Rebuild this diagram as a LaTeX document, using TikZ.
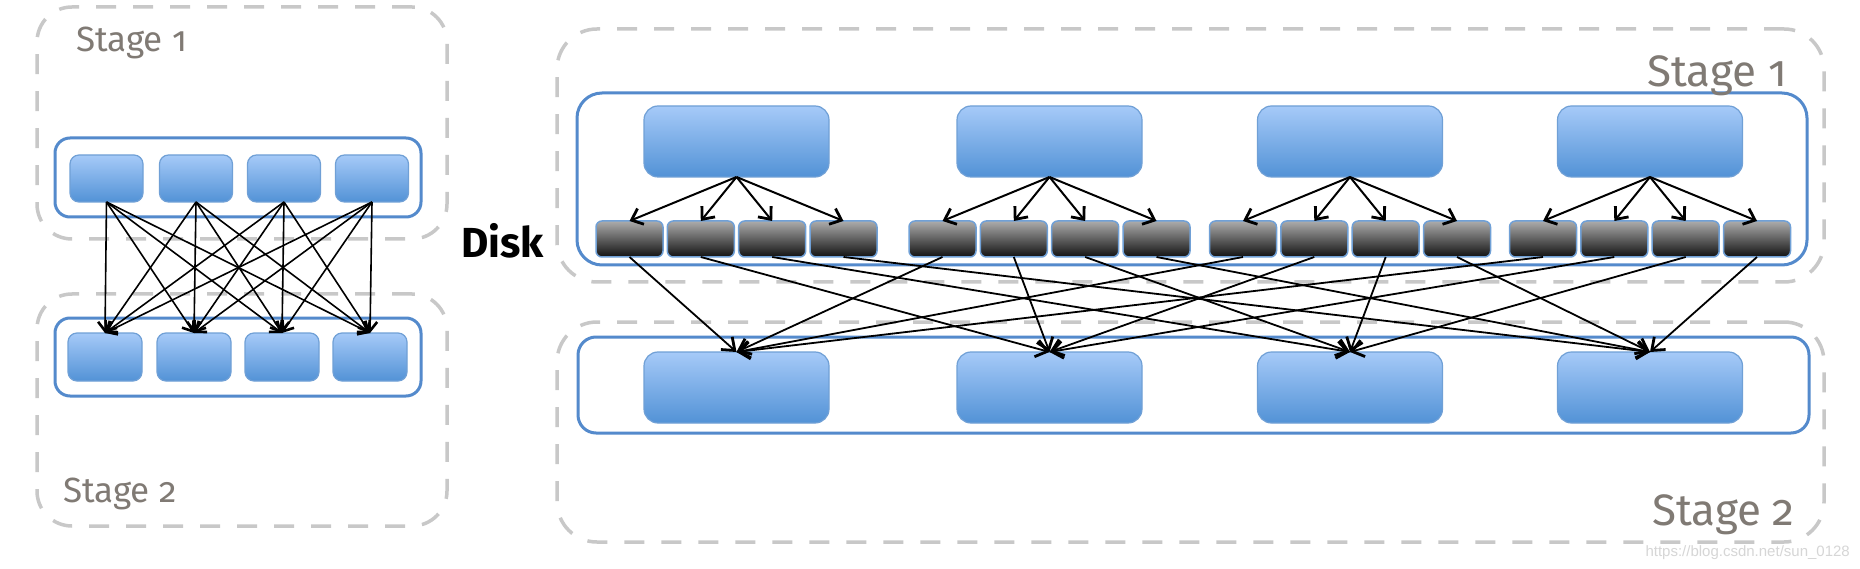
\documentclass[tikz,border=0pt]{standalone}
\usepackage{fontspec}
\setmainfont{Fira Sans}[Numbers=OldStyle]
\newfontfamily\wmfont{Liberation Sans}
\usetikzlibrary{arrows.meta}
\definecolor{dashgray}{RGB}{200,200,200}
\definecolor{contblue}{RGB}{84,138,204}
\definecolor{boxtop}{RGB}{166,202,248}
\definecolor{boxbot}{RGB}{82,146,214}
\definecolor{boxedge}{RGB}{112,160,214}
\definecolor{disktop}{RGB}{172,172,172}
\definecolor{diskbot}{RGB}{18,18,18}
\definecolor{stagegray}{RGB}{128,122,116}
\definecolor{wmgray}{RGB}{214,214,214}
\tikzset{
  stagebox/.style={draw=dashgray, line width=3.5pt, dash pattern=on 20pt off 17pt, inner sep=0pt, outer sep=0pt},
  contbox/.style={draw=contblue, line width=3pt, fill=white, inner sep=0pt, outer sep=0pt},
  bluebox/.style={draw=boxedge, line width=1.2pt, top color=boxtop, bottom color=boxbot, inner sep=0pt, outer sep=0pt},
  diskbox/.style={draw=boxedge, line width=1.5pt, top color=disktop, bottom color=diskbot, rounded corners=6pt, minimum width=67pt, minimum height=36pt, inner sep=0pt, outer sep=0pt},
  stagetext/.style={text=stagegray, inner sep=0pt},
  leftarrow/.style={line width=1.6pt, -{Straight Barb[length=9pt,width=14pt,line width=2.6pt]}},
  fanarrow/.style={line width=2pt, -{Straight Barb[length=10pt,width=17pt,line width=2.8pt]}},
  downarrow/.style={line width=1.8pt, -{Straight Barb[length=11pt,width=17pt,line width=2.8pt]}}
}
\begin{document}
\begin{tikzpicture}[x=1pt,y=-1pt]
\useasboundingbox[fill=white] (0,0) rectangle (1860,569);
% ---------- left diagram ----------
\node[stagebox, rounded corners=35pt, minimum width=410pt, minimum height=232pt] (LS1) at (242,123) {};
\node[stagebox, rounded corners=35pt, minimum width=410pt, minimum height=232pt] (LS2) at (242,410) {};
\node[contbox, rounded corners=15pt, minimum width=366pt, minimum height=79pt] (LC1) at (238,177.5) {};
\node[contbox, rounded corners=15pt, minimum width=366pt, minimum height=78pt] (LC2) at (238,357) {};
\foreach \i/\x in {1/106.5,2/196,3/284,4/372}
  \node[bluebox, rounded corners=9pt, minimum width=73pt, minimum height=47pt] (lt\i) at (\x,178.5) {};
\foreach \i/\x in {1/105,2/194,3/282,4/370}
  \node[bluebox, rounded corners=9pt, minimum width=74pt, minimum height=48pt] (lb\i) at (\x,357) {};
\node[stagetext, anchor=base west, font=\fontsize{35}{35}\selectfont] (tL1) at (76,52) {Stage 1};
\node[stagetext, anchor=base west, font=\fontsize{35}{35}\selectfont] (tL2) at (63,502) {Stage 2};
\foreach \i in {1,...,4}
  \foreach \j in {1,...,4}
    \draw[leftarrow] (lt\i.south) -- (lb\j.north);
% ---------- right diagram ----------
\node[stagebox, rounded corners=40pt, minimum width=1267pt, minimum height=253pt] (RS1) at (1190.5,155.5) {};
\node[stagebox, rounded corners=40pt, minimum width=1267pt, minimum height=220pt] (RS2) at (1190.5,432) {};
\node[contbox, rounded corners=25pt, minimum width=1230pt, minimum height=172pt] (RC1) at (1192,179) {};
\node[contbox, rounded corners=18pt, minimum width=1231pt, minimum height=96pt] (RC2) at (1193.5,385) {};
\foreach \g/\cx in {1/736.5,2/1049.5,3/1350,4/1650} {
  \node[bluebox, rounded corners=14pt, minimum width=185pt, minimum height=71pt] (bt\g) at (\cx,141.5) {};
  \node[bluebox, rounded corners=14pt, minimum width=185pt, minimum height=71pt] (bb\g) at (\cx,387.5) {};
  \foreach \i/\o in {1/-107,2/-35.7,3/35.7,4/107}
    \node[diskbox] (d\g\i) at (\cx+\o,239) {};
}
\node[stagetext, anchor=base east, font=\fontsize{44}{44}\selectfont] (tR1) at (1787,87) {Stage 1};
\node[stagetext, anchor=base east, font=\fontsize{44}{44}\selectfont] (tR2) at (1795,525) {Stage 2};
\node[inner sep=0pt, anchor=base west, font=\bfseries\fontsize{42}{42}\selectfont] (disk) at (461,258) {Disk};
\foreach \g in {1,...,4}
  \foreach \i in {1,...,4}
    \draw[fanarrow] (bt\g.south) -- (d\g\i.north);
\foreach \g in {1,...,4}
  \foreach \i in {1,...,4}
    \draw[downarrow] (d\g\i.south) -- (bb\i.north);
\node[inner sep=0pt, anchor=base east, text=wmgray, font=\wmfont\fontsize{15}{15}\selectfont] (wm) at (1850,556) {https://blog.csdn.net/sun\_0128};
\end{tikzpicture}
\end{document}
